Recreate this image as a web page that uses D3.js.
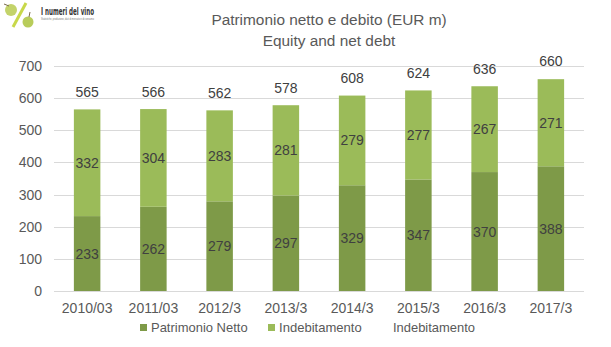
<!DOCTYPE html>
<html><head><meta charset="utf-8">
<script src="https://cdn.jsdelivr.net/npm/d3@7"></script>
<style>body{margin:0;background:#fff}svg{display:block}text{font-family:"Liberation Sans",Arial,sans-serif}</style>
</head><body>
<svg id="c" width="611" height="347"></svg>
<script>
const categories = ["2010/03","2011/03","2012/3","2013/3","2014/3","2015/3","2016/3","2017/3"];
const patrimonio = [233,262,279,297,329,347,370,388];
const indebitamento = [332,304,283,281,279,277,267,271];
const totals = [565,566,562,578,608,624,636,660];
const yTicks = [0,100,200,300,400,500,600,700];
const titleLines = ["Patrimonio netto e debito (EUR m)","Equity and net debt"];
const legendItems = [
  {name:"Patrimonio Netto", key:"p"},
  {name:"Indebitamento", key:"i"},
  {name:"Indebitamento", key:"none"}
];
const colors = {p:"#7e9a48", i:"#9bbb59", none:"none"};

const svg = d3.select("#c");
const x = d3.scaleBand().domain(categories).range([54,584]).paddingInner(0.6).paddingOuter(0.3);
const y = d3.scaleLinear().domain([0,700]).range([291,66]);

// logo
const logo = svg.append("g");
logo.append("line").attr("x1",26).attr("y1",3).attr("x2",13).attr("y2",27).attr("stroke","#c8d84a").attr("stroke-width",3);
logo.append("circle").attr("cx",11).attr("cy",10).attr("r",6).attr("fill","#c3d36a");
logo.append("circle").attr("cx",28).attr("cy",22).attr("r",5.5).attr("fill","#b8cc5a");
logo.append("line").attr("x1",4).attr("y1",4).attr("x2",9).attr("y2",6).attr("stroke","#7a6a4a").attr("stroke-width",1);
logo.append("line").attr("x1",30).attr("y1",12).attr("x2",29).attr("y2",17).attr("stroke","#7a6a4a").attr("stroke-width",1);
logo.append("text").attr("x",41).attr("y",14.5).attr("font-size",10).attr("font-weight","bold").attr("fill","#333")
  .attr("textLength",53).attr("lengthAdjust","spacingAndGlyphs").style("font-family","'Liberation Sans Narrow','DejaVu Sans Condensed',sans-serif").text("I numeri del vino");
logo.append("text").attr("x",41).attr("y",20).attr("font-size",3).attr("fill","#777")
  .attr("textLength",53).attr("lengthAdjust","spacingAndGlyphs").text("Statistiche, produzione, dati di mercato e di consumo");

// title
svg.append("g").selectAll("text").data(titleLines).join("text")
  .attr("x",329).attr("y",(d,i)=>25+i*21).attr("text-anchor","middle")
  .attr("font-size",15.4).attr("fill","#595959").text(d=>d);

// grid
svg.append("g").selectAll("line").data(yTicks).join("line")
  .attr("x1",54).attr("x2",584).attr("y1",d=>Math.round(y(d))+0.5).attr("y2",d=>Math.round(y(d))+0.5)
  .attr("stroke","#d9d9d9").attr("stroke-width",1);

// y axis
const ya = svg.append("g").attr("transform","translate(54,0)").call(d3.axisLeft(y).tickValues(yTicks).tickSize(0).tickPadding(12));
ya.select(".domain").remove();
ya.selectAll("text").attr("font-size",14).attr("fill","#595959").style("font-family","'Liberation Sans',Arial,sans-serif");

// x axis
const xa = svg.append("g").attr("transform","translate(0,291)").call(d3.axisBottom(x).tickSize(0).tickPadding(12));
xa.select(".domain").remove();
xa.selectAll("text").attr("font-size",14).attr("fill","#595959").style("font-family","'Liberation Sans',Arial,sans-serif");

// bars
const data = categories.map((c,i)=>({c, p:patrimonio[i], ind:indebitamento[i], t:totals[i]}));
const g = svg.append("g");
g.selectAll("rect.p").data(data).join("rect").attr("class","p")
  .attr("x",d=>x(d.c)).attr("width",x.bandwidth())
  .attr("y",d=>y(d.p)).attr("height",d=>y(0)-y(d.p)).attr("fill",colors.p);
g.selectAll("rect.i").data(data).join("rect").attr("class","i")
  .attr("x",d=>x(d.c)).attr("width",x.bandwidth())
  .attr("y",d=>y(d.p+d.ind)).attr("height",d=>y(d.p)-y(d.p+d.ind)).attr("fill",colors.i);

const lab = svg.append("g").attr("text-anchor","middle").attr("font-size",14).attr("fill","#404040");
lab.selectAll("text.lp").data(data).join("text").attr("class","lp")
  .attr("x",d=>x(d.c)+x.bandwidth()/2).attr("y",d=>y(d.p/2)+5).text(d=>d.p);
lab.selectAll("text.li").data(data).join("text").attr("class","li")
  .attr("x",d=>x(d.c)+x.bandwidth()/2).attr("y",d=>y(d.p+d.ind/2)+5).text(d=>d.ind);
lab.selectAll("text.lt").data(data).join("text").attr("class","lt")
  .attr("x",d=>x(d.c)+x.bandwidth()/2).attr("y",d=>y(d.t)-12.5).text(d=>d.t);

// legend
const legX = [140, 268, 382];
const legW = [96.6, 82.7, 82];
const leg = svg.append("g");
legendItems.forEach((it,i)=>{
  if (colors[it.key] !== "none")
    leg.append("rect").attr("x",legX[i]).attr("y",324).attr("width",7).attr("height",7).attr("fill",colors[it.key]);
  leg.append("text").attr("x",legX[i]+11).attr("y",331.5).attr("font-size",13.4).attr("fill","#595959")
    .attr("textLength",legW[i]).attr("lengthAdjust","spacingAndGlyphs").text(it.name);
});
</script>
</body></html>
